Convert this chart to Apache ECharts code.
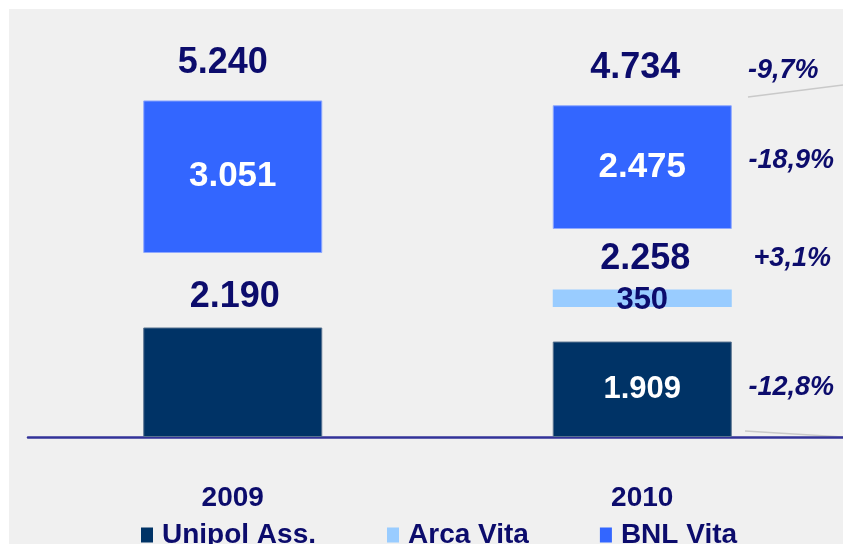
<!DOCTYPE html>
<html>
<head>
<meta charset="utf-8">
<script src="https://cdn.jsdelivr.net/npm/echarts@6/dist/echarts.min.js"></script>
<style>
  html, body { margin: 0; padding: 0; background: #fff; }
  #chart { width: 843px; height: 544px; }
</style>
</head>
<body>
<div id="chart"></div>
<script>
// data
var categories = ['2009', '2010'];
var unipol = [2190, 1909];
var arca = [0, 350];          // no Arca Vita in 2009
var bnl = [3051, 2475];
var totalLow = [2190, 2258];  // Unipol (+ Arca)
var totalAll = [5240, 4734];
// 2010 vs 2009: Unipol, Unipol+Arca, BNL, total
var changes = ['-12,8%', '+3,1%', '-18,9%', '-9,7%'];

// empty space between the stacked blocks (layout only)
var gapLow = [1490, 691];
var gapHigh = [0, 1210];

var navy = '#0c0c6c';
var FONT = '"Liberation Sans", Arial, sans-serif';

function fmt(v) {
  return String(v).replace(/\B(?=(\d{3})+(?!\d))/g, '.');
}

// heights where the annotations hang
var stackTop = [], lowTop = [], bnlMid = [];
for (var i = 0; i < categories.length; i++) {
  var under = unipol[i] + gapLow[i] + arca[i] + gapHigh[i];
  stackTop.push(under + bnl[i]);
  bnlMid.push(under + bnl[i] / 2);
  lowTop.push(arca[i] ? unipol[i] + gapLow[i] + arca[i] : unipol[i]);
}

var notes = [
  { x: 0, y: stackTop[0], text: fmt(totalAll[0]), dx: -10, dy: -37, size: 36 },
  { x: 1, y: stackTop[1], text: fmt(totalAll[1]), dx: -7, dy: -37, size: 36 },
  { x: 0, y: lowTop[0], text: fmt(totalLow[0]), dx: 2, dy: -30, size: 36 },
  { x: 1, y: lowTop[1], text: fmt(totalLow[1]), dx: 3, dy: -30, size: 36 },
  { x: 1, y: unipol[1] / 2, text: changes[0], dx: 149, dy: -2, size: 27, italic: true },
  { x: 1, y: lowTop[1], text: changes[1], dx: 150, dy: -31, size: 27, italic: true },
  { x: 1, y: bnlMid[1], text: changes[2], dx: 149, dy: -7, size: 27, italic: true },
  { x: 1, y: stackTop[1], text: changes[3], dx: 141, dy: -35, size: 27, italic: true }
];

var chart = echarts.init(document.getElementById('chart'));

function spacer(name, values) {
  return {
    name: name, type: 'bar', stack: 'all', barWidth: 179, silent: true,
    itemStyle: { color: 'rgba(0,0,0,0)' },
    data: values
  };
}

var option = {
  animation: false,
  backgroundColor: '#ffffff',
  graphic: [
    { type: 'rect', left: 9, top: 9, z: -10, shape: { width: 840, height: 540 }, style: { fill: '#f0f0f0' } },
    { type: 'line', z: -5, shape: { x1: 748, y1: 97, x2: 843, y2: 85 }, style: { stroke: '#c9c9c9', lineWidth: 1.5 } },
    { type: 'line', z: -5, shape: { x1: 745, y1: 431, x2: 843, y2: 437 }, style: { stroke: '#c9c9c9', lineWidth: 1.5 } }
  ],
  grid: { left: 28, width: 819, top: 37, bottom: 107, outerBoundsMode: 'none' },
  legend: {
    data: ['Unipol Ass.', 'Arca Vita', 'BNL Vita'],
    left: 136, top: 516,
    icon: 'rect', itemWidth: 12, itemHeight: 15, itemGap: 71,
    selectedMode: false,
    itemStyle: { borderWidth: 0 },
    textStyle: { color: navy, fontSize: 28, fontWeight: 'bold', fontFamily: FONT, padding: [0, 0, 0, 4] }
  },
  xAxis: {
    type: 'category',
    data: categories,
    axisLine: { lineStyle: { color: '#333399', width: 2.5 } },
    axisTick: { show: false },
    axisLabel: { margin: 47, color: navy, fontSize: 28, fontWeight: 'bold', fontFamily: FONT }
  },
  yAxis: {
    type: 'value', min: 0, max: 8000, show: false,
    splitLine: { show: false }
  },
  series: [
    {
      name: 'Unipol Ass.', type: 'bar', stack: 'all', barWidth: 179,
      itemStyle: { color: '#003366', borderColor: '#57728f', borderWidth: 1 },
      label: {
        show: true, position: 'inside', color: '#ffffff', fontSize: 31, fontWeight: 'bold', fontFamily: FONT,
        formatter: function (p) { return p.dataIndex === 0 ? '' : fmt(p.value); }
      },
      data: unipol
    },
    spacer('gapLow', gapLow),
    {
      name: 'Arca Vita', type: 'bar', stack: 'all', barWidth: 179,
      itemStyle: { color: '#99ccff' },
      label: {
        show: true, position: 'inside', offset: [0, 2], color: navy, fontSize: 31, fontWeight: 'bold', fontFamily: FONT,
        formatter: function (p) { return p.value ? fmt(p.value) : ''; }
      },
      data: arca
    },
    spacer('gapHigh', gapHigh),
    {
      name: 'BNL Vita', type: 'bar', stack: 'all', barWidth: 179,
      itemStyle: { color: '#3366ff', borderColor: '#8fa8ff', borderWidth: 1 },
      label: {
        show: true, position: 'inside', color: '#ffffff', fontSize: 35, fontWeight: 'bold', fontFamily: FONT,
        formatter: function (p) { return fmt(p.value); }
      },
      data: bnl
    },
    {
      name: 'notes', type: 'custom', silent: true, z: 5, clip: false,
      data: notes.map(function (n) { return [n.x, n.y]; }),
      renderItem: function (params, api) {
        var n = notes[params.dataIndex];
        var p = api.coord([api.value(0), api.value(1)]);
        return {
          type: 'text',
          x: p[0] + n.dx,
          y: p[1] + n.dy,
          style: {
            text: n.text,
            fill: navy,
            font: (n.italic ? 'italic ' : '') + 'bold ' + n.size + 'px ' + FONT,
            align: 'center',
            verticalAlign: 'middle'
          }
        };
      }
    }
  ]
};

chart.setOption(option);
</script>
</body>
</html>
